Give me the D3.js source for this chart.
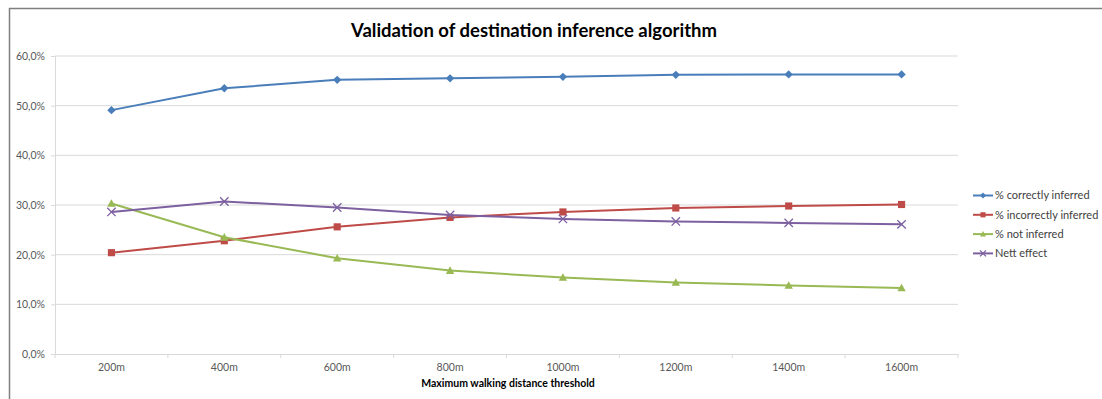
<!DOCTYPE html>
<html><head><meta charset="utf-8">
<script src="https://cdn.jsdelivr.net/npm/d3@7"></script>
<style>body{margin:0;background:#fff;} text{font-family:Lato,"Open Sans",sans-serif;}</style>
</head><body>
<svg id="c" width="1102" height="399"></svg>
<script>
const categories = ["200m","400m","600m","800m","1000m","1200m","1400m","1600m"];
const correctlyInferred = [49.1, 53.5, 55.2, 55.5, 55.8, 56.2, 56.3, 56.3];
const incorrectlyInferred = [20.4, 22.8, 25.6, 27.5, 28.6, 29.4, 29.8, 30.1];
const notInferred = [30.3, 23.5, 19.3, 16.8, 15.4, 14.4, 13.8, 13.3];
const nettEffect = [28.6, 30.7, 29.5, 28.0, 27.2, 26.7, 26.4, 26.1];
const yTicks = [0,10,20,30,40,50,60];
const seriesNames = ["% correctly inferred","% incorrectly inferred","% not inferred","Nett effect"];
const seriesColors = ["#4a7ebb","#be4b48","#98b954","#7d60a0"];
const seriesShapes = ["diamond","square","triangle","x"];
const seriesValues = [correctlyInferred, incorrectlyInferred, notInferred, nettEffect];

const svg = d3.select("#c");
// frame
svg.append("line").attr("x1",9).attr("x2",1102).attr("y1",8.5).attr("y2",8.5).attr("stroke","#7f7f7f").attr("stroke-width",1.5);
svg.append("line").attr("x1",9.5).attr("x2",9.5).attr("y1",8).attr("y2",399).attr("stroke","#7f7f7f").attr("stroke-width",1.5);

const pL=55, pR=958, pT=56, pB=354;
const x = d3.scaleBand().domain(categories).range([pL,pR]);
const y = d3.scaleLinear().domain([0,60]).range([pB,pT]);

// gridlines
svg.append("g").selectAll("line").data(yTicks.filter(d=>d>0)).join("line")
  .attr("x1",pL).attr("x2",pR).attr("y1",d=>y(d)).attr("y2",d=>y(d))
  .attr("stroke","#d9d9d9").attr("stroke-width",1);

// y axis
const yAxis = svg.append("g").attr("transform",`translate(${pL},0)`)
  .call(d3.axisLeft(y).tickValues(yTicks).tickSize(4).tickPadding(6).tickFormat(d=>d.toFixed(1).replace(".",",")+"%"));
yAxis.select(".domain").attr("stroke","#d9d9d9");
yAxis.selectAll(".tick line").attr("stroke","#d9d9d9");
yAxis.selectAll("text").attr("fill","#595959").style("font-size","10.5px");

// x axis
const xAxis = svg.append("g").attr("transform",`translate(0,${pB})`)
  .call(d3.axisBottom(x).tickSize(0).tickPadding(10));
xAxis.select(".domain").attr("stroke","#d9d9d9");
xAxis.selectAll("text").attr("fill","#595959").style("font-size","10.5px");
// category boundary ticks
const bounds = categories.map(c=>x(c)).concat([pR]);
svg.append("g").selectAll("line").data(bounds).join("line")
  .attr("x1",d=>d).attr("x2",d=>d).attr("y1",pB).attr("y2",pB+4)
  .attr("stroke","#d9d9d9");

// marker function
function marker(g, shape, color, size){
  const s=size;
  if(shape==="diamond"){
    g.append("path").attr("d",`M0,${-s}L${s},0L0,${s}L${-s},0Z`).attr("fill",color);
  } else if(shape==="square"){
    g.append("rect").attr("x",-s*0.85).attr("y",-s*0.85).attr("width",s*1.7).attr("height",s*1.7).attr("fill",color);
  } else if(shape==="triangle"){
    g.append("path").attr("d",`M0,${-s}L${s},${s*0.8}L${-s},${s*0.8}Z`).attr("fill",color);
  } else {
    g.append("path").attr("d",`M${-s},${-s}L${s},${s}M${-s},${s}L${s},${-s}`).attr("stroke",color).attr("stroke-width",1.3).attr("fill","none");
  }
}

const line = d3.line().x((d,i)=>x(categories[i])+x.bandwidth()/2).y(d=>y(d));
seriesValues.forEach((vals,k)=>{
  svg.append("path").datum(vals).attr("d",line).attr("fill","none")
    .attr("stroke",seriesColors[k]).attr("stroke-width",2);
  vals.forEach((v,i)=>{
    const g = svg.append("g").attr("transform",`translate(${x(categories[i])+x.bandwidth()/2},${y(v)})`);
    marker(g, seriesShapes[k], seriesColors[k], 4.2);
  });
});

// title
svg.append("text").attr("x",534).attr("y",37).attr("text-anchor","middle")
  .style("font-size","18.5px").style("font-weight","bold").attr("fill","#000")
  .text("Validation of destination inference algorithm");
// x axis title
svg.append("text").attr("x",508).attr("y",387).attr("text-anchor","middle")
  .style("font-size","10.5px").style("font-weight","bold").attr("fill","#000")
  .text("Maximum walking distance threshold");

// legend
const lg = svg.append("g");
seriesNames.forEach((n,k)=>{
  const yy = 195.5 + k*19.3;
  lg.append("line").attr("x1",973).attr("x2",993).attr("y1",yy).attr("y2",yy).attr("stroke",seriesColors[k]).attr("stroke-width",2);
  const g = lg.append("g").attr("transform",`translate(983,${yy})`);
  marker(g, seriesShapes[k], seriesColors[k], 3);
  lg.append("text").attr("x",995).attr("y",yy+3.8).style("font-size","11px").attr("fill","#404040").text(n);
});
</script>
</body></html>
